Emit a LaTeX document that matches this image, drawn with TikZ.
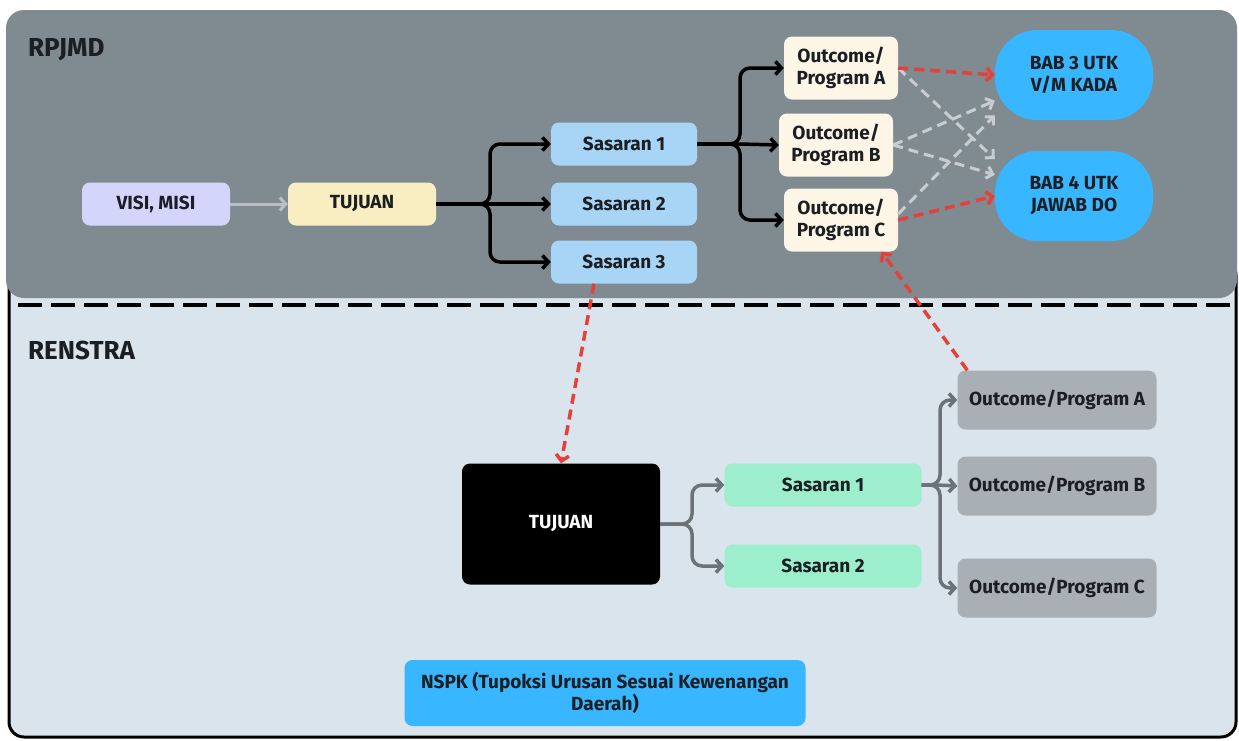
\documentclass[tikz,border=0pt]{standalone}
\usepackage{fontspec}
\setmainfont{Fira Sans}
\usetikzlibrary{arrows.meta}
\usetikzlibrary{calc}
\definecolor{rpjmdgray}{HTML}{7F8A91}
\definecolor{renstrabg}{HTML}{D9E4EC}
\definecolor{textdark}{HTML}{1B1E22}
\definecolor{visifill}{HTML}{D4D5FB}
\definecolor{tujuanfill}{HTML}{F9EEC1}
\definecolor{sasaranfill}{HTML}{A8D5F5}
\definecolor{outcomefill}{HTML}{FDF6E6}
\definecolor{babfill}{HTML}{38B6FF}
\definecolor{greenfill}{HTML}{9DEECC}
\definecolor{grayfill}{HTML}{A9B0B5}
\definecolor{linkred}{HTML}{E5413B}
\definecolor{linkgray}{HTML}{C8CDD1}
\definecolor{forkgray}{HTML}{6B7378}
\definecolor{visiarrow}{HTML}{B9BFC3}
\tikzstyle{panel label}=[anchor=west, inner sep=0pt, font=\fontsize{26}{30}\selectfont\bfseries, text=textdark]
\tikzstyle{box}=[rounded corners=8pt, font=\fontsize{19}{22}\selectfont\bfseries, text=textdark, align=center, inner sep=0pt]
\tikzstyle{visi}=[box, fill=visifill, minimum width=148pt, minimum height=43pt]
\tikzstyle{tujuan}=[box, fill=tujuanfill, minimum width=148pt, minimum height=43pt]
\tikzstyle{sasaran}=[box, fill=sasaranfill, minimum width=146pt, minimum height=43pt]
\tikzstyle{outcome}=[box, fill=outcomefill, minimum width=114pt, minimum height=63pt]
\tikzstyle{bab}=[box, fill=babfill, rounded corners=42pt, minimum width=158pt, minimum height=90pt]
\tikzstyle{tujuan renstra}=[box, fill=black, text=white, minimum width=198pt, minimum height=121pt]
\tikzstyle{sasaran renstra}=[box, fill=greenfill, minimum width=197pt, minimum height=43pt]
\tikzstyle{outcome renstra}=[box, fill=grayfill, minimum width=199pt, minimum height=59pt]
\tikzstyle{nspk}=[box, fill=babfill, minimum width=401pt, minimum height=66pt]
\tikzstyle{fork}=[line width=3.5pt, rounded corners=10pt, -{Straight Barb[length=6pt,width=13pt]}]
\tikzstyle{red link}=[draw=linkred, line width=3.5pt, dash pattern=on 10pt off 6pt, -{Straight Barb[length=6pt,width=13pt]}]
\tikzstyle{gray link}=[draw=linkgray, line width=3pt, dash pattern=on 10pt off 6pt, -{Straight Barb[length=6pt,width=12pt]}]

\begin{document}
\begin{tikzpicture}[x=1pt, y=-1pt]
  \useasboundingbox (0,0) rectangle (1239,740);
  \fill[white] (0,0) rectangle (1239,740);
  \draw[line width=3pt, fill=renstrabg, rounded corners=15pt] (9,260) rectangle (1236,737);
  \fill[rpjmdgray, rounded corners=18pt] (6,10) rectangle (1237,298);
  \draw[line width=4pt, dash pattern=on 24pt off 9pt] (18,305) -- (1239,305);

  \node[panel label] (rpjmd) at (28,50) {RPJMD};
  \node[panel label] (renstra) at (28,350) {RENSTRA};

  \node[visi] (visi) at (156,204) {VISI, MISI};
  \node[tujuan] (tujuan) at (362,204) {TUJUAN};
  \node[sasaran] (sas1) at (624,144) {Sasaran 1};
  \node[sasaran] (sas2) at (624,204) {Sasaran 2};
  \node[sasaran] (sas3) at (624,262) {Sasaran 3};
  \node[outcome] (outA) at (841,68) {Outcome/\\Program A};
  \node[outcome] (outB) at (836,145) {Outcome/\\Program B};
  \node[outcome] (outC) at (841,220) {Outcome/\\Program C};
  \node[bab] (bab3) at (1074,75) {BAB 3 UTK\\V/M KADA};
  \node[bab] (bab4) at (1074,196) {BAB 4 UTK\\JAWAB DO};

  \node[tujuan renstra] (tujuanR) at (561,524) {TUJUAN};
  \node[sasaran renstra] (sas1R) at (823,485) {Sasaran 1};
  \node[sasaran renstra] (sas2R) at (823,566) {Sasaran 2};
  \node[outcome renstra] (outAR) at (1057,400) {Outcome/Program A};
  \node[outcome renstra] (outBR) at (1057,486) {Outcome/Program B};
  \node[outcome renstra] (outCR) at (1057,588) {Outcome/Program C};
  \node[nspk] (nspk) at (605,693) {NSPK (Tupoksi Urusan Sesuai Kewenangan\\Daerah)};

  \coordinate (split1) at (490,204);
  \coordinate (split2) at (740,144);
  \coordinate (split3) at (692,524);
  \coordinate (split4) at (940,485);

  \draw[line width=3pt, draw=visiarrow, -{Straight Barb[length=6pt,width=13pt]}] (visi) to (tujuan);
  \draw[fork] (tujuan.east) -- (split1) |- (sas1.west);
  \draw[fork] (tujuan.east) -- (split1) -- (sas2.west);
  \draw[fork] (tujuan.east) -- (split1) |- (sas3.west);
  \draw[fork] (sas1.east) -- (split2) |- (outA.west);
  \draw[fork] (sas1.east) -- (split2) -- (outB.west);
  \draw[fork] (sas1.east) -- (split2) |- (outC.west);

  \draw[gray link] (outA.east) to (bab4.155);
  \draw[gray link] (outB.east) to (bab3.198);
  \draw[gray link] (outB.east) to (bab4.165);
  \draw[gray link] ($(outC.east)+(0,-6)$) to (bab3.207);
  \draw[red link] (outA.east) to (bab3.west);
  \draw[red link] (outC.east) to (bab4.west);

  \draw[fork, draw=forkgray] (tujuanR.east) -- (split3) |- (sas1R.west);
  \draw[fork, draw=forkgray] (tujuanR.east) -- (split3) |- (sas2R.west);
  \draw[fork, draw=forkgray] (sas1R.east) -- (split4) |- (outAR.west);
  \draw[fork, draw=forkgray] (sas1R.east) -- (split4) -- (outBR.west);
  \draw[fork, draw=forkgray] (sas1R.east) -- (split4) |- (outCR.west);

  \draw[red link] ($(sas3.south)+(-30,0)$) to (tujuanR.north);
  \draw[red link] ($(outAR.north west)+(10,0)$) to (outC.322);
\end{tikzpicture}
\end{document}
